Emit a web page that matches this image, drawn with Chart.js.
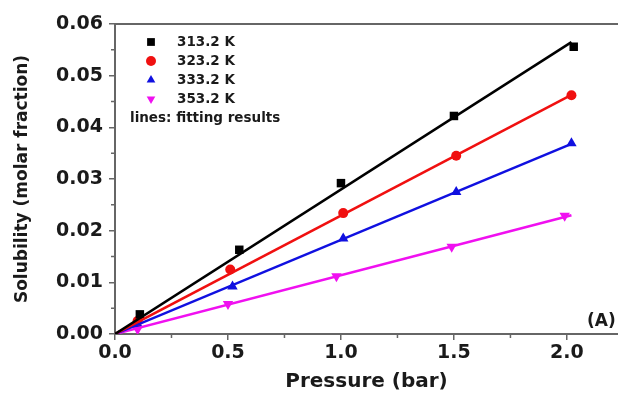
<!DOCTYPE html>
<html>
<head>
<meta charset="utf-8">
<script src="https://cdn.jsdelivr.net/npm/chart.js@4.4.0/dist/chart.umd.min.js"></script>
<style>
    html, body { margin: 0; padding: 0; background: #ffffff; }
    #wrap { width: 618px; height: 396px; }
</style>
</head>
<body>
<div id="wrap"><canvas id="solChart" width="618" height="396"></canvas></div>
<script>
// measured points
const seriesLabels = ["313.2 K", "323.2 K", "333.2 K", "353.2 K"];
const p313 = [0.11, 0.55, 1.00, 1.50, 2.03];
const x313 = [0.0038, 0.0163, 0.0292, 0.0422, 0.0556];
const p323 = [0.10, 0.51, 1.01, 1.51, 2.02];
const x323 = [0.0025, 0.0125, 0.0234, 0.0345, 0.0462];
const p333 = [0.10, 0.52, 1.01, 1.51, 2.02];
const x333 = [0.0019, 0.0092, 0.0185, 0.0275, 0.0369];
const p353 = [0.10, 0.50, 0.98, 1.49, 1.99];
const x353 = [0.0009, 0.0058, 0.0112, 0.0169, 0.0229];

// fitting lines (start / end)
const fitP = [0.0, 2.02];
const fit313 = [0.0, 0.0565];
const fit323 = [0.0, 0.0463];
const fit333 = [0.0, 0.0368];
const fit353 = [0.0, 0.0230];

const xTicks = [0, 0.5, 1.0, 1.5, 2.0];
const yTicks = [0, 0.01, 0.02, 0.03, 0.04, 0.05, 0.06];

const colors = ["#000000", "#f01010", "#1010e0", "#f010f0"];
const styles = ["rect", "circle", "triangle", "triangle"];
const rots = [0, 0, 0, 180];
const radii = [6, 5, 6, 6];

function pts(xs, ys) {
    return xs.map((v, i) => ({ x: v, y: ys[i] }));
}

const pointSets = [pts(p313, x313), pts(p323, x323), pts(p333, x333), pts(p353, x353)];
const fitSets = [pts(fitP, fit313), pts(fitP, fit323), pts(fitP, fit333), pts(fitP, fit353)];

const datasets = [];
fitSets.forEach((d, i) => {
    datasets.push({
        label: "fit " + seriesLabels[i],
        data: d,
        showLine: true,
        borderColor: colors[i],
        borderWidth: 2.5,
        pointRadius: 0,
        isFit: true
    });
});
pointSets.forEach((d, i) => {
    datasets.push({
        label: seriesLabels[i],
        data: d,
        showLine: false,
        backgroundColor: colors[i],
        borderColor: colors[i],
        borderWidth: 0,
        pointStyle: styles[i],
        rotation: rots[i],
        pointRadius: radii[i]
    });
});

const axisColor = "#666666";
const textColor = "#1a1a1a";
const boldFont = "'DejaVu Sans', sans-serif";

// box top line, minor ticks, legend, panel label
const decor = {
    id: "decor",
    afterDraw: (chart) => {
        const ctx = chart.ctx;
        const a = chart.chartArea;
        const xs = chart.scales.x;
        const ys = chart.scales.y;
        ctx.save();
        ctx.strokeStyle = axisColor;
        ctx.lineWidth = 2;
        ctx.beginPath();
        ctx.moveTo(a.left, a.top);
        ctx.lineTo(a.right, a.top);
        ctx.stroke();

        // minor ticks
        ctx.lineWidth = 1.5;
        ctx.beginPath();
        [0.25, 0.75, 1.25, 1.75].forEach(v => {
            const px = xs.getPixelForValue(v);
            ctx.moveTo(px, a.bottom);
            ctx.lineTo(px, a.bottom + 4);
        });
        [0.005, 0.015, 0.025, 0.035, 0.045, 0.055].forEach(v => {
            const py = ys.getPixelForValue(v);
            ctx.moveTo(a.left, py);
            ctx.lineTo(a.left - 4, py);
        });
        ctx.stroke();

        // legend
        ctx.font = "bold 13.5px " + boldFont;
        ctx.textBaseline = "middle";
        let ly = a.top + 18;
        chart.data.datasets.filter(d => !d.isFit).forEach(d => {
            ctx.fillStyle = d.backgroundColor;
            Chart.helpers.drawPoint(ctx, {
                pointStyle: d.pointStyle,
                rotation: d.rotation,
                radius: d.pointStyle === "rect" ? 5.5 : 5,
                borderWidth: 0
            }, 151, ly);
            ctx.fillStyle = textColor;
            ctx.fillText(d.label, 177, ly);
            ly += 19;
        });
        ctx.fillText("lines: fitting results", 130, ly);

        ctx.font = "bold 17px " + boldFont;
        ctx.textAlign = "left";
        ctx.fillText("(A)", 587, a.bottom - 12);
        ctx.restore();
    }
};

new Chart(document.getElementById("solChart").getContext("2d"), {
    type: "scatter",
    data: { datasets: datasets },
    options: {
        responsive: false,
        animation: false,
        layout: { autoPadding: false, padding: { top: 24, right: 0, bottom: 0, left: 0 } },
        plugins: {
            legend: { display: false },
            tooltip: { enabled: false }
        },
        scales: {
            x: {
                type: "linear",
                min: 0,
                max: 2.226,
                afterBuildTicks: (s) => { s.ticks = xTicks.map(v => ({ value: v })); },
                afterFit: (s) => { s.height = 62; s.paddingRight = 0; },
                border: { color: axisColor, width: 2 },
                grid: { drawOnChartArea: false, color: axisColor, tickLength: 6, lineWidth: 1.5 },
                ticks: {
                    color: textColor,
                    padding: 2,
                    font: { family: boldFont, size: 19, weight: "bold" },
                    callback: (v) => v.toFixed(1)
                },
                title: {
                    display: true,
                    text: "Pressure (bar)",
                    color: textColor,
                    padding: { top: 2, bottom: 2 },
                    font: { family: boldFont, size: 20, weight: "bold" }
                }
            },
            y: {
                type: "linear",
                min: 0,
                max: 0.06,
                afterBuildTicks: (s) => { s.ticks = yTicks.map(v => ({ value: v })); },
                afterFit: (s) => { s.width = 115; },
                border: { color: axisColor, width: 2 },
                grid: { drawOnChartArea: false, color: axisColor, tickLength: 6, lineWidth: 1.5 },
                ticks: {
                    color: textColor,
                    padding: 6,
                    font: { family: boldFont, size: 19, weight: "bold" },
                    callback: (v) => v.toFixed(2)
                },
                title: {
                    display: true,
                    text: "Solubility (molar fraction)",
                    color: textColor,
                    padding: { top: 12, bottom: 2 },
                    font: { family: boldFont, size: 17, weight: "bold" }
                }
            }
        }
    },
    plugins: [decor]
});
</script>
</body>
</html>
